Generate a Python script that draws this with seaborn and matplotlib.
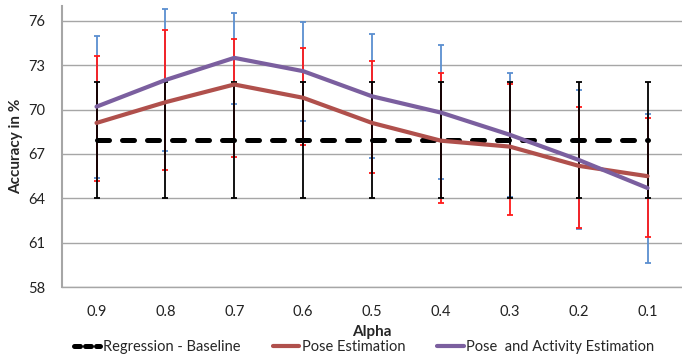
import matplotlib
matplotlib.use("Agg")
import matplotlib.pyplot as plt
import seaborn as sns
import numpy as np
import pandas as pd
from matplotlib.lines import Line2D

# values
alphas = ["0.9", "0.8", "0.7", "0.6", "0.5", "0.4", "0.3", "0.2", "0.1"]

baseline = [67.95, 67.95, 67.95, 67.95, 67.95, 67.95, 67.95, 67.95, 67.95]
baseline_lo = [64.05, 64.05, 64.05, 64.05, 64.05, 64.05, 64.05, 64.05, 64.05]
baseline_hi = [71.85, 71.85, 71.85, 71.85, 71.85, 71.85, 71.85, 71.85, 71.85]

pose = [69.1, 70.5, 71.7, 70.8, 69.1, 67.9, 67.5, 66.2, 65.5]
pose_lo = [65.2, 65.9, 66.8, 67.6, 65.7, 63.7, 62.9, 62.0, 61.4]
pose_hi = [73.6, 75.4, 74.8, 74.2, 73.3, 72.5, 71.7, 70.2, 69.4]

pose_act = [70.2, 72.0, 73.5, 72.6, 70.9, 69.8, 68.3, 66.6, 64.7]
pose_act_lo = [65.4, 67.2, 70.4, 69.2, 66.7, 65.3, 64.1, 61.9, 59.6]
pose_act_hi = [75.0, 76.8, 76.5, 75.9, 75.1, 74.4, 72.5, 71.3, 69.7]

yticks = [58, 61, 64, 67, 70, 73, 76]

sns.set_style("white")
plt.rcParams['font.family'] = ['Lato', 'DejaVu Sans']

pos = np.arange(len(alphas))
df = pd.DataFrame({"pos": pos, "baseline": baseline, "pose": pose, "pose_act": pose_act})

fig, ax = plt.subplots(figsize=(6.82, 3.58), dpi=100)
fig.subplots_adjust(left=0.091, right=1.0, top=0.983, bottom=0.198)

# error bars: blue (pose+activity) at the back, then red, then black
def bars(vals, lo, hi, color, z):
    v = np.array(vals)
    err = [v - np.array(lo), np.array(hi) - v]
    ax.errorbar(pos, v, yerr=err, fmt="none", ecolor=color, elinewidth=1.3,
                capsize=2, capthick=1.3, zorder=z)

bars(pose_act, pose_act_lo, pose_act_hi, "#5b8fd0", 2)
bars(pose, pose_lo, pose_hi, "#ff1a1a", 3)
bars(baseline, baseline_lo, baseline_hi, "#000000", 4)

sns.lineplot(data=df, x="pos", y="baseline", ax=ax, color="black", lw=3.6,
             linestyle=(0, (2.4, 2.6)), dash_capstyle="round", zorder=5)
sns.lineplot(data=df, x="pos", y="pose", ax=ax, color="#b0504c", lw=3.0, zorder=6)
sns.lineplot(data=df, x="pos", y="pose_act", ax=ax, color="#7b5f9f", lw=3.0, zorder=7)

ax.set_xlim(-0.5, len(alphas) - 0.5)
ax.set_ylim(58, 77)
ax.set_yticks(yticks)
ax.set_yticklabels([str(t) for t in yticks], fontsize=10.5, color="#222222")
ax.set_xticks(pos)
ax.set_xticklabels(alphas, fontsize=10.5, color="#222222")
ax.tick_params(axis="x", length=0, pad=13)
ax.tick_params(axis="y", length=0, pad=12)
ax.grid(axis="y", color="#a6a6a6", lw=1.0)
ax.set_axisbelow(True)
for s in ["top", "right"]:
    ax.spines[s].set_visible(False)
ax.spines["left"].set_color("#a6a6a6")
ax.spines["bottom"].set_color("#a6a6a6")
ax.spines["left"].set_linewidth(1.5)
ax.spines["bottom"].set_linewidth(1.0)

ax.set_xlabel("Alpha", fontsize=11, fontweight="bold", labelpad=4)
ax.set_ylabel("Accuracy in %", fontsize=11, fontweight="bold", labelpad=4)

handles = [
    Line2D([], [], color="black", lw=3.6, linestyle=(0, (1.2, 1.0)), dash_capstyle="round"),
    Line2D([], [], color="#b0504c", lw=3.0),
    Line2D([], [], color="#7b5f9f", lw=3.0),
]
labels = ["Regression - Baseline", "Pose Estimation", "Pose  and Activity Estimation"]
fig.legend(handles, labels, loc="lower center", bbox_to_anchor=(0.534, -0.025), ncol=3,
           frameon=False, fontsize=10.5, handlelength=1.8, handletextpad=0.2,
           columnspacing=2.2)

fig.savefig("out.png", dpi=100)
